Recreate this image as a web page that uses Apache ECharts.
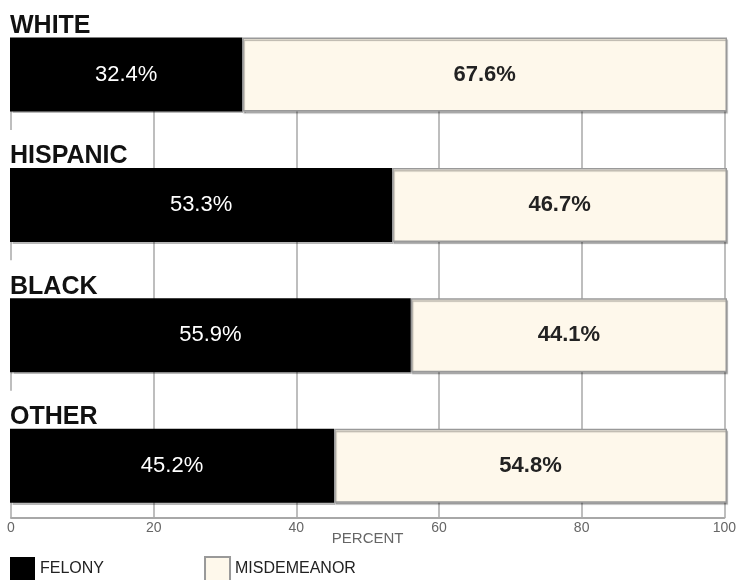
<!DOCTYPE html>
<html>
<head>
<meta charset="utf-8">
<script src="https://cdn.jsdelivr.net/npm/echarts@6/dist/echarts.min.js"></script>
<style>
  html, body { margin: 0; padding: 0; background: #fff; }
  #chart { width: 739px; height: 580px; }
</style>
</head>
<body>
<div id="chart"></div>
<script>
// data
var groups = ['WHITE', 'HISPANIC', 'BLACK', 'OTHER'];
var felony = [32.4, 53.3, 55.9, 45.2];
var misdemeanor = [67.6, 46.7, 44.1, 54.8];
var xTicks = [0, 20, 40, 60, 80, 100];

function initChart() {
    var chart = echarts.init(document.getElementById('chart'));

    var barShadow = {
        shadowColor: 'rgba(0,0,0,0.28)',
        shadowOffsetX: 1,
        shadowOffsetY: 2,
        shadowBlur: 1
    };

    chart.setOption({
        animation: false,
        backgroundColor: '#fff',
        textStyle: { fontFamily: 'Liberation Sans, Arial, sans-serif' },
        grid: [
            // bars
            { left: 10, right: 12, top: 5, bottom: 49 },
            // axis + vertical grid lines
            { left: 11, right: 12, top: 40, bottom: 62 }
        ],
        xAxis: [
            { gridIndex: 0, type: 'value', min: 0, max: 100, show: false },
            {
                gridIndex: 1,
                type: 'value',
                min: 0,
                max: 100,
                interval: 20,
                name: 'PERCENT',
                nameLocation: 'middle',
                nameGap: 13,
                nameMoveOverlap: false,
                nameTextStyle: { fontSize: 15, color: '#666' },
                axisLine: { show: true, lineStyle: { color: '#a8a8a8', width: 2 } },
                axisTick: { show: false },
                axisLabel: {
                    margin: 3,
                    fontSize: 14,
                    color: '#666',
                    formatter: function (v) {
                        return xTicks.indexOf(v) >= 0 ? String(v) : '';
                    }
                },
                splitLine: { show: true, lineStyle: { color: '#a8a8a8', width: 1.5 } },
                z: 0
            }
        ],
        yAxis: [
            {
                gridIndex: 0,
                type: 'category',
                data: groups,
                inverse: true,
                axisLine: { show: false },
                axisTick: { show: false },
                splitLine: { show: false },
                axisLabel: {
                    inside: true,
                    margin: -2,
                    align: 'left',
                    verticalAlign: 'bottom',
                    fontSize: 25,
                    fontWeight: 'bold',
                    color: '#111',
                    backgroundColor: '#fff',
                    padding: [14, 4, 36, 2]
                },
                z: 1
            },
            { gridIndex: 1, type: 'value', show: false }
        ],
        legend: {
            left: 10,
            top: 556,
            padding: 0,
            itemWidth: 25,
            itemHeight: 24,
            itemGap: 100,
            icon: 'rect',
            textStyle: { fontSize: 16, color: '#222' },
            data: ['FELONY', 'MISDEMEANOR']
        },
        series: [
            {
                name: 'FELONY',
                type: 'bar',
                stack: 'total',
                xAxisIndex: 0,
                yAxisIndex: 0,
                barWidth: 74,
                data: felony,
                itemStyle: Object.assign({ color: '#000' }, barShadow),
                label: {
                    show: true,
                    position: 'inside',
                    fontSize: 22,
                    color: '#fff',
                    formatter: function (p) { return p.value.toFixed(1) + '%'; }
                }
            },
            {
                name: 'MISDEMEANOR',
                type: 'bar',
                stack: 'total',
                xAxisIndex: 0,
                yAxisIndex: 0,
                barWidth: 74,
                data: misdemeanor,
                itemStyle: Object.assign({
                    color: '#fef8eb',
                    borderColor: '#999',
                    borderWidth: 1.5
                }, barShadow),
                label: {
                    show: true,
                    position: 'inside',
                    fontSize: 22,
                    fontWeight: 'bold',
                    color: '#222',
                    formatter: function (p) { return p.value.toFixed(1) + '%'; }
                }
            }
        ]
    });
}

initChart();
</script>
</body>
</html>
